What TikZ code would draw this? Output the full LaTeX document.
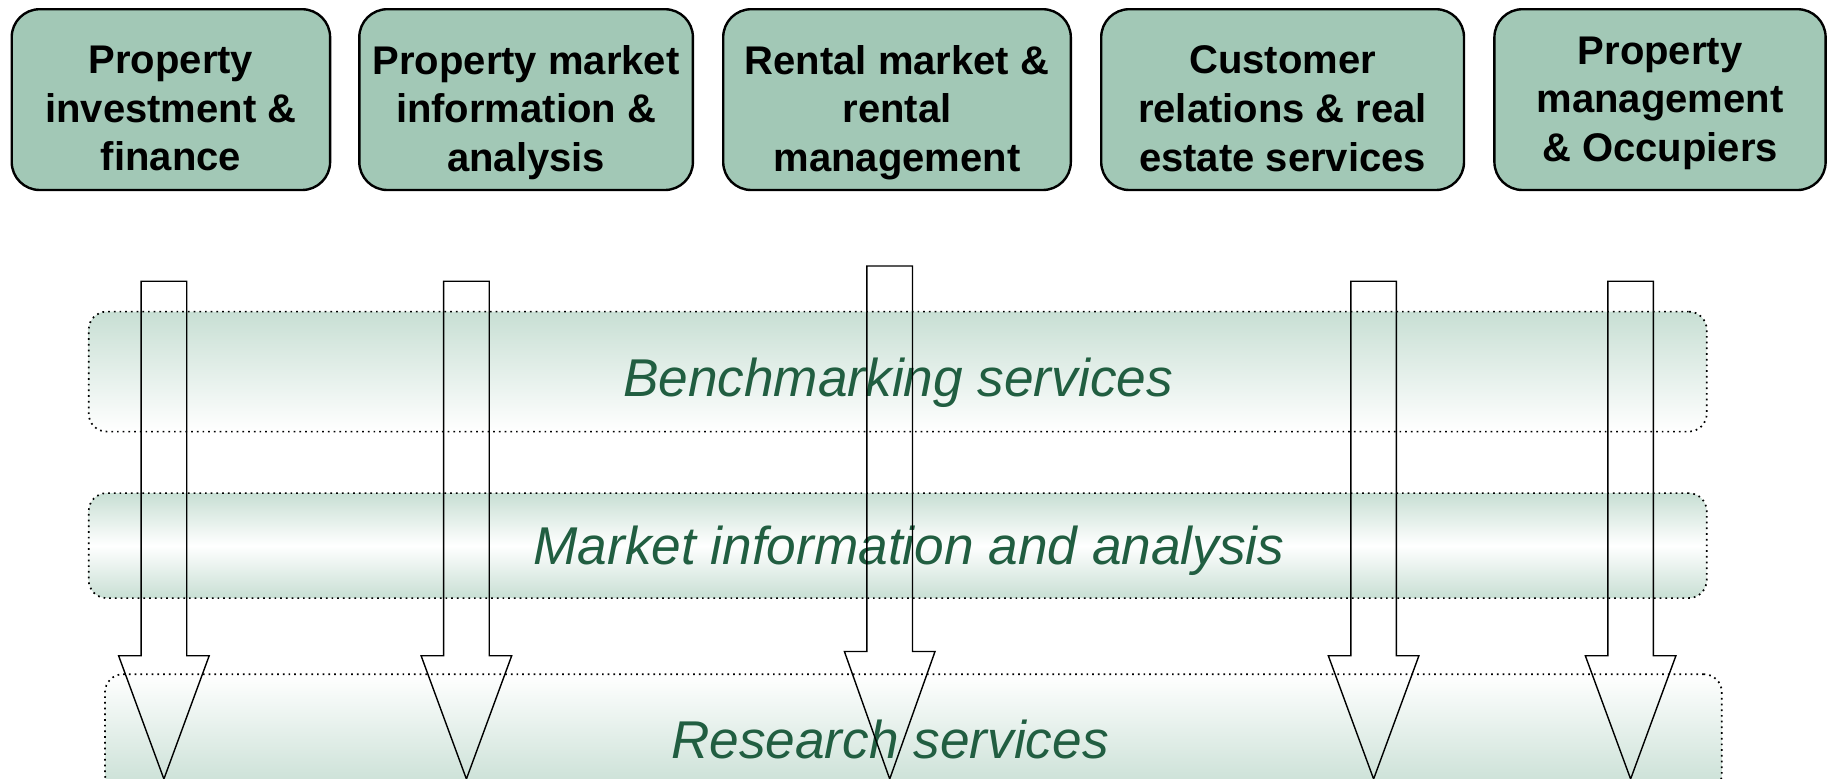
\documentclass[tikz,border=0pt]{standalone}
\usepackage{fontspec}
\setmainfont{Liberation Sans}
\definecolor{boxgreen}{HTML}{A2C8B6}
\definecolor{bandgreen}{HTML}{C8DFD4}
\definecolor{textgreen}{HTML}{215E41}
\begin{document}
\begin{tikzpicture}[x=0.5pt, y=-0.5pt]
  \clip (0,0) rectangle (1829,778);
  \tikzstyle{topic}=[draw, line width=1.2pt, rounded corners=14pt, fill=boxgreen, inner sep=0pt]
  \tikzstyle{topictext}=[align=center, text depth=0pt, font=\fontsize{20}{24.4}\selectfont\bfseries]
  \tikzstyle{band}=[draw=black, dotted, line width=0.85pt, rounded corners=9pt, inner sep=0pt, minimum width=809pt]
  \tikzstyle{bandtext}=[anchor=base, text=textgreen, font=\fontsize{26.6}{32}\selectfont\itshape]
  \tikzstyle{bigarrow}=[draw, line width=0.7pt, line join=miter]

  % topics along the top
  \node[topic, minimum width=159.2pt, minimum height=90.4pt] (invest) at (170.9,99.6) {};
  \node[topic, minimum width=166.8pt, minimum height=90.4pt] (marketinfo) at (526.1,99.6) {};
  \node[topic, minimum width=173.8pt, minimum height=90.4pt] (rental) at (897,99.6) {};
  \node[topic, minimum width=181.4pt, minimum height=90.4pt] (customer) at (1282.6,99.6) {};
  \node[topic, minimum width=165.6pt, minimum height=90.4pt] (occupiers) at (1660,99.6) {};
  \node[topictext] (investtext) at ([yshift=-4.4pt]invest.center) {Property\\investment \&\\finance};
  \node[topictext] (marketinfotext) at ([yshift=-4.4pt]marketinfo.center) {Property market\\information \&\\analysis};
  \node[topictext] (rentaltext) at ([yshift=-4.4pt]rental.center) {Rental market \&\\rental\\management};
  \node[topictext] (customertext) at ([yshift=-4.4pt]customer.center) {Customer\\relations \& real\\estate services};
  \node[topictext] (occupierstext) at ([yshift=0.2pt]occupiers.center) {Property\\management\\\& Occupiers};

  % service bands
  \node[band, minimum height=60pt, top color=bandgreen, bottom color=white] (bench) at (897.7,371.6) {};
  \node[band, minimum height=52.5pt, top color=bandgreen, bottom color=bandgreen, middle color=white] (analysis) at (897.7,545.6) {};
  \node[band, minimum width=808.4pt, minimum height=59pt, top color=white, bottom color=bandgreen] (research) at (913.4,733.2) {};
  \node[bandtext] (benchtext) at (898,396.6) {Benchmarking services};
  \node[bandtext] (analysistext) at (909,564.6) {Market information and analysis};
  \node[bandtext] (researchtext) at (890,758) {Research services};

  % arrows down through the bands
  \foreach \x/\t/\h in {163.9/281.2/655.7, 466.4/281.2/655.7, 889.7/266/651.5, 1373.6/281.2/655.7, 1630.6/281.2/655.7}
    \draw[bigarrow] (\x-22.8,\t) -- (\x+22.8,\t) -- (\x+22.8,\h) -- (\x+45.3,\h) -- (\x,779) -- (\x-45.3,\h) -- (\x-22.8,\h) -- cycle;
\end{tikzpicture}
\end{document}
